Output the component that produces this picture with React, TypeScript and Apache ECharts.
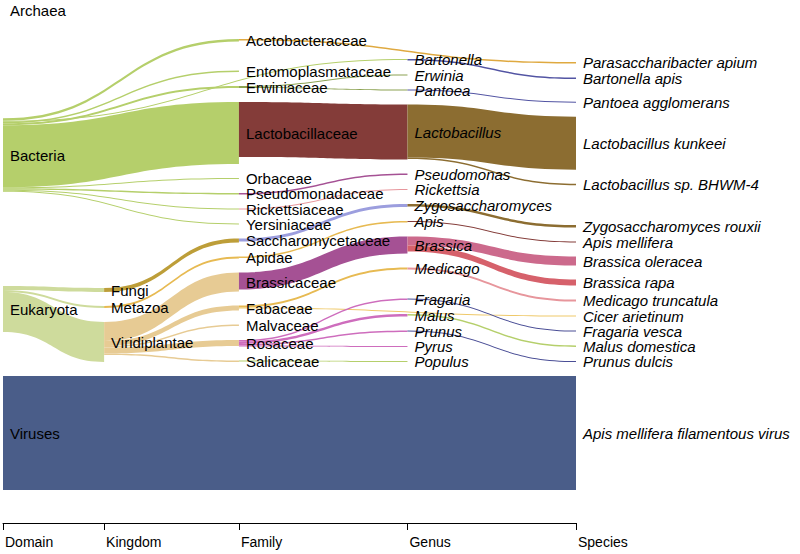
import React, { useEffect, useRef } from "react";
import * as echarts from "echarts";

// ---- Taxa by rank (top-to-bottom order) ----
const domains = ["Archaea", "Bacteria", "Eukaryota", "Viruses"];
const kingdoms = ["Fungi", "Metazoa", "Viridiplantae"];
const families = [
  "Acetobacteraceae", "Entomoplasmataceae", "Erwiniaceae", "Lactobacillaceae",
  "Orbaceae", "Pseudomonadaceae", "Rickettsiaceae", "Yersiniaceae",
  "Saccharomycetaceae", "Apidae", "Brassicaceae", "Fabaceae", "Malvaceae",
  "Rosaceae", "Salicaceae",
];
const genera = [
  "Bartonella", "Erwinia", "Pantoea", "Lactobacillus", "Pseudomonas", "Rickettsia",
  "Zygosaccharomyces", "Apis", "Brassica", "Medicago", "Fragaria", "Malus",
  "Prunus", "Pyrus", "Populus",
];
const species = [
  "Parasaccharibacter apium", "Bartonella apis", "Pantoea agglomerans",
  "Lactobacillus kunkeei", "Lactobacillus sp. BHWM-4", "Zygosaccharomyces rouxii",
  "Apis mellifera", "Brassica oleracea", "Brassica rapa", "Medicago truncatula",
  "Cicer arietinum", "Fragaria vesca", "Malus domestica", "Prunus dulcis",
  "Apis mellifera filamentous virus",
];

// ---- Axis ----
const rankLabels = ["Domain", "Kingdom", "Family", "Genus", "Species"];
const rankDepths = [0, 3, 7, 12, 17];

// ---- Values ----
const archaeaValue = 0.5;

const domainLinks: [string, string, number][] = [
  ["Bacteria", "Acetobacteraceae", 2.5],
  ["Bacteria", "Bartonella", 1],
  ["Bacteria", "Entomoplasmataceae", 1.5],
  ["Bacteria", "Erwiniaceae", 2],
  ["Bacteria", "Lactobacillaceae", 62],
  ["Bacteria", "Orbaceae", 1],
  ["Bacteria", "Pseudomonadaceae", 1.5],
  ["Bacteria", "Rickettsiaceae", 1],
  ["Bacteria", "Yersiniaceae", 1],
  ["Eukaryota", "Fungi", 4],
  ["Eukaryota", "Metazoa", 2],
  ["Eukaryota", "Viridiplantae", 40],
  ["Viruses", "Apis mellifera filamentous virus", 114],
];

const kingdomLinks: [string, string, number][] = [
  ["Fungi", "Saccharomycetaceae", 4],
  ["Metazoa", "Apidae", 2],
  ["Viridiplantae", "Brassicaceae", 19],
  ["Viridiplantae", "Fabaceae", 5],
  ["Viridiplantae", "Malvaceae", 1.5],
  ["Viridiplantae", "Rosaceae", 6],
  ["Viridiplantae", "Salicaceae", 1.5],
];

const familyLinks: [string, string, number][] = [
  ["Acetobacteraceae", "Parasaccharibacter apium", 1.5],
  ["Erwiniaceae", "Erwinia", 1],
  ["Erwiniaceae", "Pantoea", 1],
  ["Lactobacillaceae", "Lactobacillus", 55],
  ["Pseudomonadaceae", "Pseudomonas", 1.5],
  ["Rickettsiaceae", "Rickettsia", 1],
  ["Saccharomycetaceae", "Zygosaccharomyces", 3],
  ["Apidae", "Apis", 1.5],
  ["Brassicaceae", "Brassica", 17],
  ["Fabaceae", "Medicago", 2],
  ["Fabaceae", "Cicer arietinum", 1],
  ["Rosaceae", "Fragaria", 1.5],
  ["Rosaceae", "Malus", 2.5],
  ["Rosaceae", "Prunus", 1.5],
  ["Rosaceae", "Pyrus", 1],
  ["Salicaceae", "Populus", 1],
];

const genusLinks: [string, string, number][] = [
  ["Bartonella", "Bartonella apis", 1.5],
  ["Pantoea", "Pantoea agglomerans", 1],
  ["Lactobacillus", "Lactobacillus kunkeei", 53],
  ["Lactobacillus", "Lactobacillus sp. BHWM-4", 1.5],
  ["Zygosaccharomyces", "Zygosaccharomyces rouxii", 2.5],
  ["Apis", "Apis mellifera", 1],
  ["Brassica", "Brassica oleracea", 9],
  ["Brassica", "Brassica rapa", 6],
  ["Medicago", "Medicago truncatula", 2],
  ["Fragaria", "Fragaria vesca", 1],
  ["Malus", "Malus domestica", 1.5],
  ["Prunus", "Prunus dulcis", 1],
];

// ---- Styles (colour of the link entering each taxon) ----
const GREEN = "#b5cf6b";
const linkColors: Record<string, string> = {
  Acetobacteraceae: GREEN, Bartonella: GREEN, Entomoplasmataceae: GREEN,
  Erwiniaceae: GREEN, Lactobacillaceae: GREEN, Orbaceae: GREEN,
  Pseudomonadaceae: GREEN, Rickettsiaceae: GREEN, Yersiniaceae: GREEN,
  Fungi: "#cedb9c", Metazoa: "#cedb9c", Viridiplantae: "#cedb9c",
  "Apis mellifera filamentous virus": "#4a5d89",
  Saccharomycetaceae: "#bd9e39", Apidae: "#e7ba52",
  Brassicaceae: "#e7cb94", Fabaceae: "#e7cb94", Malvaceae: "#e7cb94",
  Rosaceae: "#e7cb94", Salicaceae: "#e7cb94",
  "Parasaccharibacter apium": "#dfa940",
  Erwinia: "#8ca252", Pantoea: "#8ca252",
  Lactobacillus: "#843c39", Pseudomonas: "#a55194", Rickettsia: "#e7969c",
  Zygosaccharomyces: "#9c9ede", Apis: "#e7ba52", Brassica: "#a55194",
  Medicago: "#e7ba52", "Cicer arietinum": "#efc96a",
  Fragaria: "#ce6dbd", Malus: "#ce6dbd", Prunus: "#ce6dbd", Pyrus: "#ce6dbd",
  Populus: GREEN,
  "Bartonella apis": "#5254a3", "Pantoea agglomerans": "#5254a3",
  "Lactobacillus kunkeei": "#8c6d31", "Lactobacillus sp. BHWM-4": "#8c6d31",
  "Zygosaccharomyces rouxii": "#8c6d31", "Apis mellifera": "#843c39",
  "Brassica oleracea": "#cc6a8c", "Brassica rapa": "#d6616b",
  "Medicago truncatula": "#e7969c", "Fragaria vesca": "#4a4e96",
  "Malus domestica": GREEN, "Prunus dulcis": "#4a4e96",
};

// Where a rank-skipping link sits inside the columns it crosses (layout order)
const passAfter: Record<string, string | null> = {
  Bartonella: "Acetobacteraceae",
  "Parasaccharibacter apium": null,
  "Cicer arietinum": "Medicago",
};

const FONT = "'Liberation Sans', Arial, Helvetica, sans-serif";

// Order-preserving d3-sankey style relaxation; rank-skipping links get
// pass-through slots in the columns they cross.
function orderedLayout(
  ranks: string[][],
  links: [string, string, number][],
  raw: Record<string, number>,
  H: number,
  pad: number,
  iterations: number
) {
  const cols = ranks.map((c) => [...c]);
  const colOf: Record<string, number> = {};
  cols.forEach((c, i) => c.forEach((n) => (colOf[n] = i)));
  const segs: [string, string, number][] = [];
  let bacteriaSlots = 0;
  links.forEach(([s, t, v]) => {
    const a = colOf[s];
    const b = colOf[t];
    if (b - a <= 1) {
      segs.push([s, t, v]);
      return;
    }
    let prev = s;
    for (let k = a + 1; k < b; k++) {
      const d = `~${s}>${t}@${k}`;
      colOf[d] = k;
      const col = cols[k];
      if (s === "Viruses") col.push(d);
      else if (k === 1) col.splice(bacteriaSlots++, 0, d);
      else if (t in passAfter) {
        const after = passAfter[t];
        col.splice(after === null ? 0 : col.indexOf(after) + 1, 0, d);
      } else col.push(d);
      segs.push([prev, d, v]);
      prev = d;
    }
    segs.push([prev, t, v]);
  });
  const value: Record<string, number> = {};
  const ins: Record<string, [string, number][]> = {};
  const outs: Record<string, [string, number][]> = {};
  cols.flat().forEach((n) => {
    ins[n] = [];
    outs[n] = [];
  });
  segs.forEach(([s, t, v]) => {
    outs[s].push([t, v]);
    ins[t].push([s, v]);
  });
  const sum = (a: [string, number][]) => a.reduce((x, e) => x + e[1], 0);
  cols.flat().forEach((n) => {
    value[n] = Math.max(sum(ins[n]), sum(outs[n]), raw[n] || 0);
  });
  const y: Record<string, number> = {};
  const dy: Record<string, number> = {};
  cols.forEach((col) => {
    let y0 = 0;
    col.forEach((n) => {
      dy[n] = value[n];
      y[n] = y0;
      y0 += dy[n] + pad;
    });
  });
  const center = (n: string) => y[n] + dy[n] / 2;
  const resolve = () => {
    cols.forEach((col) => {
      let y0 = 0;
      col.forEach((n) => {
        if (y[n] < y0) y[n] = y0;
        y0 = y[n] + dy[n] + pad;
      });
      const over = y0 - pad - H;
      if (over > 0) {
        y[col[col.length - 1]] -= over;
        for (let i = col.length - 2; i >= 0; i--) {
          const d = y[col[i]] + dy[col[i]] + pad - y[col[i + 1]];
          if (d > 0) y[col[i]] -= d;
        }
      }
    });
  };
  resolve();
  let alpha = 1;
  for (let it = 0; it < iterations; it++) {
    alpha *= 0.99;
    [...cols].reverse().forEach((col) =>
      col.forEach((n) => {
        if (outs[n].length) {
          const c = outs[n].reduce((a, [t, v]) => a + center(t) * v, 0) / sum(outs[n]);
          y[n] += (c - center(n)) * alpha;
        }
      })
    );
    resolve();
    cols.forEach((col) =>
      col.forEach((n) => {
        if (ins[n].length) {
          const c = ins[n].reduce((a, [s, v]) => a + center(s) * v, 0) / sum(ins[n]);
          y[n] += (c - center(n)) * alpha;
        }
      })
    );
    resolve();
  }
  return y;
}

export default function App() {
  const ref = useRef<HTMLDivElement>(null);

  useEffect(() => {
    document.body.style.margin = "0";
    if (!ref.current) return;
    const chart = echarts.init(ref.current, null, { renderer: "svg" });

    const allLinks = [...domainLinks, ...kingdomLinks, ...familyLinks, ...genusLinks];
    const ranks = [domains, kingdoms, families, genera, species];

    const top = 5;
    const height = 485;

    // ECharts node gap chosen so that one value unit is one pixel
    const nodeVal: Record<string, number> = {};
    ranks.flat().forEach((n) => {
      const i = allLinks.filter((l) => l[1] === n).reduce((a, l) => a + l[2], 0);
      const o = allLinks.filter((l) => l[0] === n).reduce((a, l) => a + l[2], 0);
      nodeVal[n] = Math.max(i, o, n === "Archaea" ? archaeaValue : 0);
    });
    let nodeGap = Infinity;
    ranks.forEach((col) => {
      if (col.length > 1) {
        const s = col.reduce((a, n) => a + nodeVal[n], 0);
        nodeGap = Math.min(nodeGap, (height - s) / (col.length - 1));
      }
    });
    nodeGap -= 0.001;

    const yPos = orderedLayout(ranks, allLinks, { Archaea: archaeaValue }, height, 14, 64);

    const nodes: any[] = [];
    ranks.forEach((names, r) => {
      names.forEach((name) => {
        nodes.push({
          name,
          depth: rankDepths[r],
          value: name === "Archaea" ? archaeaValue : undefined,
          localY: yPos[name] / height,
          itemStyle: { color: "rgba(0,0,0,0)", borderWidth: 0 },
          label: {
            fontStyle: r >= 3 ? "italic" : "normal",
            offset: name === "Archaea" ? [0, 5] : [0, 0],
          },
        });
      });
    });

    const links = allLinks.map(([s, t, v]) => ({
      source: s,
      target: t,
      value: v,
      lineStyle: { color: linkColors[t] || "#999", opacity: 1 },
    }));

    const tickName: Record<number, string> = {};
    rankDepths.forEach((d, i) => (tickName[d] = rankLabels[i]));

    chart.setOption({
      animation: false,
      grid: { left: 3, right: 224, top: 0, bottom: 31, containLabel: false },
      xAxis: {
        type: "value",
        min: 0,
        max: 17,
        position: "bottom",
        axisLine: { show: true, lineStyle: { color: "#000", width: 1 } },
        axisTick: {
          show: true,
          customValues: rankDepths,
          length: 7,
          lineStyle: { color: "#000", width: 1 },
        },
        axisLabel: {
          customValues: rankDepths,
          formatter: (v: number) => tickName[v] ?? "",
          align: "left",
          color: "#000",
          fontSize: 14,
          fontFamily: FONT,
          margin: 12,
          padding: [0, 0, 0, 2],
        },
        splitLine: { show: false },
      },
      yAxis: { type: "value", show: false },
      series: [
        {
          type: "sankey",
          left: 3,
          top,
          width: 573,
          height,
          nodeWidth: 0,
          nodeGap,
          layoutIterations: 0,
          draggable: false,
          emphasis: { disabled: true },
          data: nodes,
          links,
          label: {
            show: true,
            position: "right",
            distance: 7,
            color: "#000",
            fontSize: 15,
            fontFamily: FONT,
          },
          lineStyle: { curveness: 0.5, opacity: 1 },
        },
      ],
    });

    return () => chart.dispose();
  }, []);

  return <div ref={ref} style={{ width: 800, height: 554 }} />;
}
